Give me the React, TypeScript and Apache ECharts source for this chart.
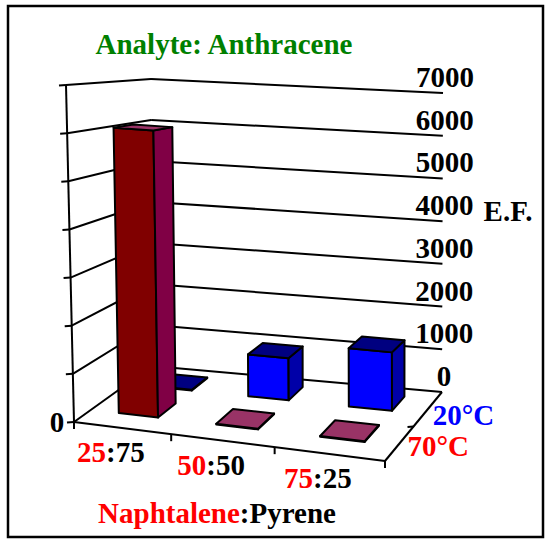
import { useEffect, useRef } from "react";
import * as echarts from "echarts";

// ---- data ----
const categories = ["25:75", "50:50", "75:25"];
const seriesNames = ["20°C", "70°C"];
const values20 = [15, 950, 1300];
const values70 = [6100, 15, 15];
const valueTicks = [0, 1000, 2000, 3000, 4000, 5000, 6000, 7000];
const VMAX = 7000;

// ---- 3D box layout (pixel corners of the floor / walls, u = along categories, z = depth, w = height) ----
const P000 = [74, 422];
const P100 = [385, 461];
const P010 = [152, 366];
const P110 = [442, 392];
const P001 = [66, 85];
const P101 = [383, 108];
const P011 = [151, 79];
const P111 = [443, 93];
const PERSP = 1.1; // right side of the box is nearer

// depth slot of each series row: 20°C sits at the back, 70°C in front
const ROWS = [
  { z0: 0.68, z1: 0.89 },
  { z0: 0.22, z1: 0.46 },
];
const BAR_W = 0.41;

const FACES = [
  { front: "#0000ff", side: "#0000a8", top: "#000080" },
  { front: "#800000", side: "#800045", top: "#993366" },
];
const LABEL_COLORS = ["#0000ff", "#ff0000"];

const FONT = 'bold 29px "Liberation Serif", "Times New Roman", serif';

const lerp2 = (a: number[], b: number[], t: number) => [
  a[0] + (b[0] - a[0]) * t,
  a[1] + (b[1] - a[1]) * t,
];

function project(u: number, z: number, w: number) {
  const s = u / (u + PERSP * (1 - u));
  const floor = lerp2(lerp2(P000, P100, s), lerp2(P010, P110, s), z);
  const ceil = lerp2(lerp2(P001, P101, s), lerp2(P011, P111, s), z);
  return lerp2(floor, ceil, w);
}

// turn a (category position, value) pair into box fractions through the hidden axes
function toUW(params: any, api: any, x: number, v: number) {
  const cs = params.coordSys;
  const p = api.coord([x, v]);
  return [(p[0] - cs.x) / cs.width, (cs.y + cs.height - p[1]) / cs.height];
}

const line = (a: number[], b: number[], width = 2) => ({
  type: "line",
  shape: { x1: a[0], y1: a[1], x2: b[0], y2: b[1] },
  style: { stroke: "#000", lineWidth: width },
});

const poly = (pts: number[][], fill: string) => ({
  type: "polygon",
  shape: { points: pts },
  style: { fill, stroke: "#000", lineWidth: 2, lineJoin: "round" },
});

const text = (x: number, y: number, t: string, extra: any = {}) => ({
  type: "text",
  x,
  y,
  style: {
    text: t,
    font: FONT,
    fill: "#000",
    align: "center",
    verticalAlign: "middle",
    ...extra,
  },
});

function renderWalls(params: any, api: any) {
  const t = api.value(1);
  const [, w] = toUW(params, api, 0, t);
  const children: any[] = [];
  const leftFront = project(0, 0, w);
  const leftBack = project(0, 1, w);
  const backRight = project(1, 1, w);
  children.push(line(leftFront, leftBack));
  children.push(line(leftBack, backRight));
  children.push(line(leftFront, [leftFront[0] - 7, leftFront[1] + 0.5]));
  children.push(text(backRight[0] + 2, backRight[1] - 16, String(t)));
  if (t === 0) {
    const top = project(0, 0, 1);
    children.push(line(leftFront, top));
    children.push(line(project(0, 0, 0), project(1, 0, 0)));
    children.push(line(project(1, 0, 0), project(1, 1, 0)));
    children.push(text(leftFront[0] - 17, leftFront[1], "0"));
  }
  return { type: "group", children };
}

function makeBarRenderer(row: number) {
  return (params: any, api: any) => {
    const i = api.value(0);
    const v = api.value(1);
    const [u0, w0] = toUW(params, api, i + 0.5 - BAR_W / 2, 0);
    const [u1, wt] = toUW(params, api, i + 0.5 + BAR_W / 2, v);
    const { z0, z1 } = ROWS[row];
    const c = FACES[row];
    return {
      type: "group",
      children: [
        poly(
          [project(u0, z0, w0), project(u1, z0, w0), project(u1, z0, wt), project(u0, z0, wt)],
          c.front,
        ),
        poly(
          [project(u1, z0, w0), project(u1, z1, w0), project(u1, z1, wt), project(u1, z0, wt)],
          c.side,
        ),
        poly(
          [project(u0, z0, wt), project(u1, z0, wt), project(u1, z1, wt), project(u0, z1, wt)],
          c.top,
        ),
      ],
    };
  };
}

function renderCategory(params: any, api: any) {
  const i = api.value(0);
  const children: any[] = [];
  const tickAt = (x: number) => {
    const [u] = toUW(params, api, x, 0);
    const p = project(u, 0, 0);
    children.push(line(p, [p[0], p[1] + 7]));
  };
  tickAt(i);
  if (i === categories.length - 1) tickAt(i + 1);
  const [uc] = toUW(params, api, i + 0.5, 0);
  const pc = project(uc, 0, 0);
  const [lead, rest] = categories[i].split(":");
  children.push(
    text(pc[0] - 11, pc[1] + 24, `{r|${lead}}:${rest}`, {
      rich: { r: { fill: "#ff0000", font: FONT } },
    }),
  );
  return { type: "group", children };
}

function renderSeriesLabel(params: any, api: any) {
  const r = params.dataIndex;
  const { z0, z1 } = ROWS[r];
  const p = project(1, (z0 + z1) / 2, 0);
  const children: any[] = [
    text(p[0] + 3, p[1] + 8, seriesNames[r], { fill: LABEL_COLORS[r], align: "left" }),
  ];
  if (r === 0) {
    const m = project(1, 0.5, 0);
    children.push(line(m, [m[0] - 6, m[1] + 0.5]));
  }
  return { type: "group", children };
}

export default function App() {
  const ref = useRef<HTMLDivElement>(null);

  useEffect(() => {
    if (!ref.current) return;
    const chart = echarts.init(ref.current, undefined, { renderer: "svg" });
    const series20 = values20.map((v, i) => [i, v]);
    const series70 = values70.map((v, i) => [i, v]);

    chart.setOption({
      animation: false,
      grid: { left: 74, top: 85, width: 311, height: 337, containLabel: false },
      xAxis: { type: "value", min: 0, max: categories.length, show: false },
      yAxis: { type: "value", min: 0, max: VMAX, interval: 1000, show: false },
      graphic: [
        {
          type: "rect",
          shape: { x: 8, y: 6, width: 535, height: 531 },
          style: { fill: "none", stroke: "#000", lineWidth: 2.5 },
          silent: true,
        },
        {
          type: "text",
          x: 224,
          y: 44,
          style: {
            text: "Analyte: Anthracene",
            font: FONT,
            fill: "#008000",
            align: "center",
            verticalAlign: "middle",
          },
        },
        {
          type: "text",
          x: 508,
          y: 211,
          style: { text: "E.F.", font: FONT, fill: "#000", align: "center", verticalAlign: "middle" },
        },
        {
          type: "text",
          x: 217,
          y: 513,
          style: {
            text: "{r|Naphtalene}:Pyrene",
            font: FONT,
            fill: "#000",
            align: "center",
            verticalAlign: "middle",
            rich: { r: { fill: "#ff0000", font: FONT } },
          },
        },
      ],
      series: [
        {
          type: "custom",
          name: "walls",
          coordinateSystem: "cartesian2d",
          clip: false,
          silent: true,
          renderItem: renderWalls,
          data: valueTicks.map((t) => [0, t]),
        },
        {
          type: "custom",
          name: seriesNames[0],
          coordinateSystem: "cartesian2d",
          clip: false,
          renderItem: makeBarRenderer(0),
          data: series20,
        },
        {
          type: "custom",
          name: seriesNames[1],
          coordinateSystem: "cartesian2d",
          clip: false,
          renderItem: makeBarRenderer(1),
          data: series70,
        },
        {
          type: "custom",
          name: "categories",
          coordinateSystem: "cartesian2d",
          clip: false,
          silent: true,
          renderItem: renderCategory,
          data: categories.map((_, i) => [i, 0]),
        },
        {
          type: "custom",
          name: "rows",
          coordinateSystem: "cartesian2d",
          clip: false,
          silent: true,
          renderItem: renderSeriesLabel,
          data: seriesNames.map(() => [categories.length, 0]),
        },
      ],
    });

    return () => chart.dispose();
  }, []);

  return (
    <div
      ref={ref}
      style={{ position: "absolute", left: 0, top: 0, width: 550, height: 544, background: "#fff" }}
    />
  );
}
